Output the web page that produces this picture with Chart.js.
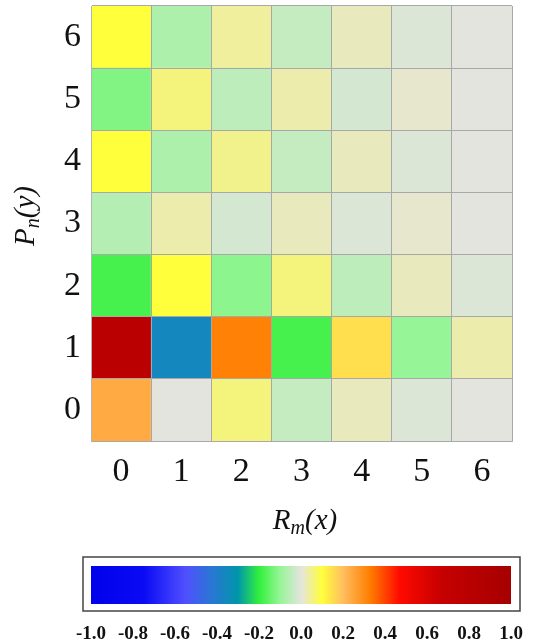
<!DOCTYPE html>
<html>
<head>
<meta charset="utf-8">
<script src="https://cdn.jsdelivr.net/npm/chart.js@4/dist/chart.umd.min.js"></script>
<style>
  body { margin: 0; background: #fff; }
  #wrap { position: relative; width: 539px; height: 643px; }
  #heatBox { position: absolute; left: 0; top: 0; width: 539px; height: 550px; }
  #barBox { position: absolute; left: 0; top: 550px; width: 539px; height: 93px; }
</style>
</head>
<body>
<div id="wrap">
  <div id="heatBox"><canvas id="heatCanvas"></canvas></div>
  <div id="barBox"><canvas id="barCanvas"></canvas></div>
</div>
<script>
var xLabels = ['0', '1', '2', '3', '4', '5', '6'];
var yLabels = ['0', '1', '2', '3', '4', '5', '6'];

// one array per row Pn(y), values for Rm(x) = 0..6
var row0 = [0.24, 0.00, 0.06, -0.04, 0.02, -0.01, 0.00];
var row1 = [0.80, -0.36, 0.32, -0.18, 0.15, -0.10, 0.03];
var row2 = [-0.18, 0.10, -0.11, 0.06, -0.05, 0.02, -0.01];
var row3 = [-0.06, 0.03, -0.02, 0.02, -0.01, 0.01, 0.00];
var row4 = [0.10, -0.07, 0.05, -0.04, 0.02, -0.01, 0.00];
var row5 = [-0.12, 0.06, -0.05, 0.03, -0.02, 0.01, 0.00];
var row6 = [0.10, -0.07, 0.04, -0.04, 0.02, -0.01, 0.00];
var rows = [row0, row1, row2, row3, row4, row5, row6];

var colorTicks = [-1.0, -0.8, -0.6, -0.4, -0.2, 0.0, 0.2, 0.4, 0.6, 0.8, 1.0];

// colour map stops [value, r, g, b]
var stops = [
  [-1.0, 0, 0, 235],
  [-0.75, 10, 10, 245],
  [-0.55, 80, 80, 255],
  [-0.42, 40, 120, 210],
  [-0.3, 0, 150, 170],
  [-0.2, 50, 240, 60],
  [-0.1, 150, 245, 150],
  [0.0, 228, 228, 222],
  [0.1, 255, 255, 60],
  [0.2, 255, 190, 95],
  [0.33, 255, 125, 0],
  [0.47, 255, 10, 0],
  [0.66, 200, 0, 0],
  [1.0, 165, 0, 0]
];

function valueColor(v) {
  if (v <= stops[0][0]) return 'rgb(' + stops[0].slice(1).join(',') + ')';
  for (var i = 1; i < stops.length; i++) {
    if (v <= stops[i][0]) {
      var a = stops[i - 1], b = stops[i];
      var t = (v - a[0]) / (b[0] - a[0]);
      var r = Math.round(a[1] + (b[1] - a[1]) * t);
      var g = Math.round(a[2] + (b[2] - a[2]) * t);
      var bl = Math.round(a[3] + (b[3] - a[3]) * t);
      return 'rgb(' + r + ',' + g + ',' + bl + ')';
    }
  }
  var l = stops[stops.length - 1];
  return 'rgb(' + l.slice(1).join(',') + ')';
}

var serif = '"Liberation Serif", "DejaVu Serif", serif';

var datasets = [];
for (var r = 0; r < rows.length; r++) {
  datasets.push({
    label: 'Pn(y)=' + r,
    data: rows[r].map(function() { return [r - 0.5, r + 0.5]; }),
    backgroundColor: rows[r].map(valueColor),
    borderWidth: 0,
    grouped: false,
    barPercentage: 1,
    categoryPercentage: 1
  });
}

var titlePlugin = {
  id: 'titles',
  afterDraw: function(chart) {
    var ctx = chart.ctx;
    ctx.save();
    ctx.fillStyle = '#111';
    ctx.textBaseline = 'alphabetic';
    var big = 'italic 29px ' + serif, small = 'italic 20px ' + serif;
    // x title Rm(x)
    ctx.font = big; var wR = ctx.measureText('R').width; var wP = ctx.measureText('(x)').width;
    ctx.font = small; var wm = ctx.measureText('m').width;
    var total = wR + wm + wP;
    var x0 = 305 - total / 2, base = 529;
    ctx.font = big; ctx.fillText('R', x0, base);
    ctx.font = small; ctx.fillText('m', x0 + wR, base + 5);
    ctx.font = big; ctx.fillText('(x)', x0 + wR + wm, base);
    // y title Pn(y)
    ctx.translate(34, 216);
    ctx.rotate(-Math.PI / 2);
    ctx.font = big; wR = ctx.measureText('P').width; wP = ctx.measureText('(y)').width;
    ctx.font = small; wm = ctx.measureText('n').width;
    total = wR + wm + wP;
    x0 = -total / 2;
    ctx.font = big; ctx.fillText('P', x0, 0);
    ctx.font = small; ctx.fillText('n', x0 + wR, 5);
    ctx.font = big; ctx.fillText('(y)', x0 + wR + wm, 0);
    ctx.restore();
  }
};

new Chart(document.getElementById('heatCanvas'), {
  type: 'bar',
  data: { labels: xLabels, datasets: datasets },
  options: {
    responsive: true,
    maintainAspectRatio: false,
    animation: false,
    layout: { padding: { left: 0, top: 6, right: 27, bottom: 0 } },
    plugins: { legend: { display: false }, tooltip: { enabled: false } },
    scales: {
      x: {
        offset: true,
        grid: { z: 1, offset: true, color: '#a8a8a8', lineWidth: 1, drawTicks: false },
        border: { z: 1, color: '#b4b4b4' },
        ticks: { color: '#111', padding: 11, font: { family: serif, size: 34 } },
        afterFit: function(scale) {
          scale.height = 109;
          scale.paddingLeft = 0;
          scale.paddingRight = 0;
        }
      },
      y: {
        min: -0.5,
        max: 6.5,
        afterBuildTicks: function(scale) {
          scale.ticks = yLabels.map(function(l) { return { value: Number(l) }; });
        },
        grid: { z: 1, offset: true, color: '#a8a8a8', lineWidth: 1, drawTicks: false },
        border: { z: 1, color: '#b4b4b4' },
        ticks: {
          color: '#111', padding: 10, font: { family: serif, size: 34 },
          callback: function(v) { return yLabels[Math.round(v)]; }
        },
        afterFit: function(scale) {
          scale.width = 91;
          scale.paddingTop = 0;
          scale.paddingBottom = 0;
        }
      }
    }
  },
  plugins: [titlePlugin]
});

var boxPlugin = {
  id: 'cbBox',
  afterDraw: function(chart) {
    var ctx = chart.ctx;
    ctx.save();
    ctx.strokeStyle = '#444';
    ctx.lineWidth = 1.5;
    ctx.strokeRect(83, 7, 437, 54);
    ctx.restore();
  }
};

new Chart(document.getElementById('barCanvas'), {
  type: 'bar',
  data: {
    labels: ['colour scale'],
    datasets: [{
      data: [[colorTicks[0], colorTicks[colorTicks.length - 1]]],
      borderWidth: 0,
      barPercentage: 1,
      categoryPercentage: 1,
      backgroundColor: function(c) {
        var area = c.chart.chartArea;
        if (!area) return '#888';
        var g = c.chart.ctx.createLinearGradient(area.left, 0, area.right, 0);
        stops.forEach(function(s) {
          g.addColorStop((s[0] + 1) / 2, 'rgb(' + s[1] + ',' + s[2] + ',' + s[3] + ')');
        });
        return g;
      }
    }]
  },
  options: {
    indexAxis: 'y',
    responsive: true,
    maintainAspectRatio: false,
    animation: false,
    layout: { padding: { left: 91, top: 16, right: 28, bottom: 0 } },
    plugins: { legend: { display: false }, tooltip: { enabled: false } },
    scales: {
      y: { display: false },
      x: {
        min: -1,
        max: 1,
        grid: { display: false, drawTicks: false },
        border: { display: false },
        afterBuildTicks: function(scale) {
          scale.ticks = colorTicks.map(function(v) { return { value: v }; });
        },
        ticks: {
          color: '#111', padding: 19, maxRotation: 0, autoSkip: false,
          font: { family: serif, size: 19, weight: 'bold' },
          callback: function(v) { return Number(v).toFixed(1); }
        },
        afterFit: function(scale) {
          scale.height = 39;
          scale.paddingLeft = 0;
          scale.paddingRight = 0;
        }
      }
    }
  },
  plugins: [boxPlugin]
});
</script>
</body>
</html>
